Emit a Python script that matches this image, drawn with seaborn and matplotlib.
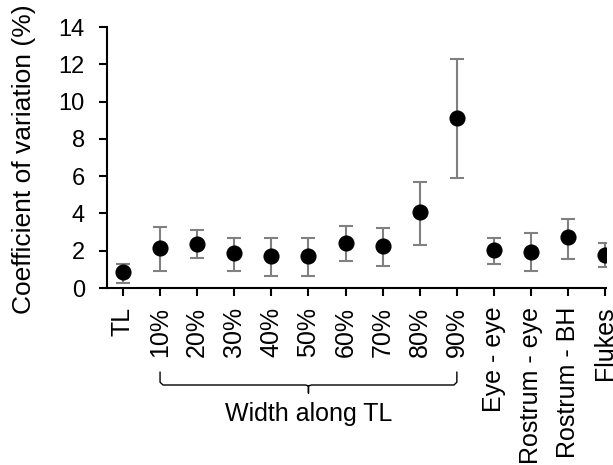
import matplotlib
matplotlib.use("Agg")
import matplotlib.pyplot as plt
from matplotlib.lines import Line2D
import matplotlib.transforms as mtransforms
import numpy as np
import pandas as pd
import seaborn as sns

# Measurements and their coefficient of variation (%)
labels = ["TL", "10%", "20%", "30%", "40%", "50%", "60%", "70%", "80%", "90%",
          "Eye - eye", "Rostrum - eye", "Rostrum - BH", "Flukes"]
cv_mean = [0.84, 2.15, 2.34, 1.86, 1.70, 1.70, 2.41, 2.24, 4.08, 9.12,
           2.06, 1.95, 2.72, 1.79]
cv_low = [0.25, 0.93, 1.63, 0.93, 0.66, 0.66, 1.47, 1.20, 2.29, 5.88,
          1.29, 0.93, 1.57, 1.11]
cv_high = [1.30, 3.29, 3.13, 2.67, 2.67, 2.67, 3.31, 3.22, 5.70, 12.30,
           2.68, 2.95, 3.69, 2.40]
y_ticks = [0, 2, 4, 6, 8, 10, 12, 14]
group_label = "Width along TL"
group_first, group_last = "10%", "90%"

sns.set_theme(style="ticks")
plt.rcParams["font.family"] = ["Liberation Sans", "DejaVu Sans"]

df = pd.DataFrame({"label": labels, "cv": cv_mean, "low": cv_low, "high": cv_high})
xpos = np.arange(len(df))

fig = plt.figure(figsize=(6.13, 4.65), dpi=100)
ax = fig.add_axes([107 / 613, 1 - 288 / 465, (606 - 107) / 613, (288 - 27) / 465])

yerr = np.vstack([df["cv"] - df["low"], df["high"] - df["cv"]])
ax.errorbar(xpos, df["cv"], yerr=yerr, fmt="none", ecolor="#808080",
            elinewidth=1.5, capsize=4.8, capthick=1.5, zorder=2)
sns.scatterplot(data=df, x="label", y="cv", ax=ax, color="black", s=135,
                edgecolor="black", linewidth=0, zorder=3, legend=False)

ax.set_xlim(-0.43, 13.02)
ax.set_ylim(0, 14)
ax.set_yticks(y_ticks)
ax.set_xticks(xpos)
ax.set_xticklabels(labels, rotation=90, fontsize=18)
ax.tick_params(axis="y", labelsize=17, length=6, width=1.5, pad=10, color="black")
ax.tick_params(axis="x", length=5.5, width=1.5, pad=8, color="black")
for lbl in ax.get_xticklabels() + ax.get_yticklabels():
    lbl.set_color("black")
ax.set_xlabel("")
ax.set_ylabel("")
sns.despine(ax=ax)
for side in ("left", "bottom"):
    ax.spines[side].set_linewidth(1.5)
    ax.spines[side].set_color("black")

fig.text(24 / 613, 1 - 159 / 465, "Coefficient of variation (%)", rotation=90,
         ha="center", va="center", fontsize=19, color="black")

# Curly brace grouping the width measurements
i0, i1 = labels.index(group_first), labels.index(group_last)
mid = (i0 + i1) / 2
trans = mtransforms.blended_transform_factory(ax.transData, fig.transFigure)
y_top = 1 - 372 / 465
y_bar = 1 - 385 / 465
y_tip = 1 - 393 / 465
curve = 0.08
bx = [i0, i0, i0 + curve, mid - curve, mid, mid, mid, mid + curve, i1 - curve, i1, i1]
by = [y_top, y_bar + 0.006, y_bar, y_bar, y_bar - 0.002, y_tip, y_bar - 0.002,
      y_bar, y_bar, y_bar + 0.006, y_top]
fig.add_artist(Line2D(bx, by, transform=trans, color="black", lw=1.0))
fig.text(mid, 1 - 414 / 465, group_label, transform=trans, ha="center", va="center",
         fontsize=18, color="black")

fig.savefig("out.png", dpi=100)
